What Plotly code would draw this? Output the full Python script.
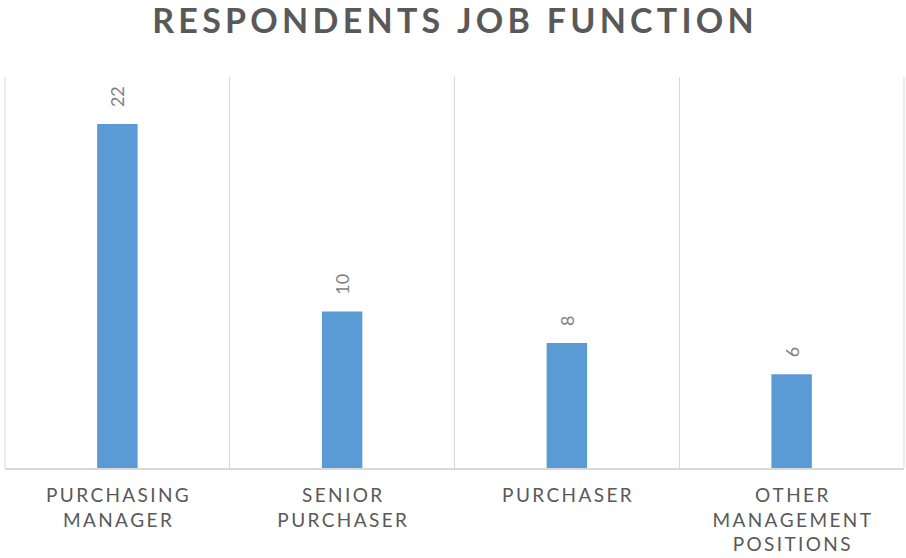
import plotly.graph_objects as go

categories = ["PURCHASING<br>MANAGER", "SENIOR<br>PURCHASER", "PURCHASER", "OTHER<br>MANAGEMENT<br>POSITIONS"]
values = [22, 10, 8, 6]
title_text = "RESPONDENTS JOB FUNCTION"


def spaced(s, sep=" "):
    return "<br>".join(sep.join(list(line)) for line in s.split("<br>"))


cat_labels = [spaced(c, "\u200a\u200a") for c in categories]

fig = go.Figure(
    go.Bar(
        x=cat_labels,
        y=values,
        marker=dict(color="#5B9BD5", line=dict(width=0)),
        text=["\u00a0\u00a0\u00a0" + str(v) for v in values],
        textposition="outside",
        textangle=-90,
        textfont=dict(family="Lato", size=18, color="#7F7F7F"),
        cliponaxis=False,
        width=0.18,
    )
)

for xp in (0, 1):
    fig.add_shape(type="line", xref="paper", yref="paper", x0=xp, x1=xp, y0=0, y1=1,
                  line=dict(color="#D9D9D9", width=1))

fig.update_layout(
    width=906,
    height=558,
    margin=dict(l=5, r=2, t=77, b=90),
    paper_bgcolor="white",
    plot_bgcolor="white",
    showlegend=False,
    title=dict(
        text="<b>" + spaced(title_text, "\u200a\u200a") + "</b>",
        x=0.5,
        xanchor="center",
        y=1 - 21 / 558,
        yanchor="middle",
        font=dict(family="Lato", size=34, color="#595959"),
    ),
    xaxis=dict(
        type="category",
        tickson="boundaries",
        showgrid=True,
        gridcolor="#D9D9D9",
        gridwidth=1,
        showline=True,
        linecolor="#D9D9D9",
        linewidth=2,
        ticks="",
        ticklabelstandoff=9,
        tickfont=dict(family="Lato", size=19, color="#595959"),
        range=[-0.5, 3.5],
    ),
    yaxis=dict(
        range=[0, 25],
        showgrid=False,
        showticklabels=False,
        zeroline=False,
        showline=False,
    ),
)

fig.write_html("out.html")
